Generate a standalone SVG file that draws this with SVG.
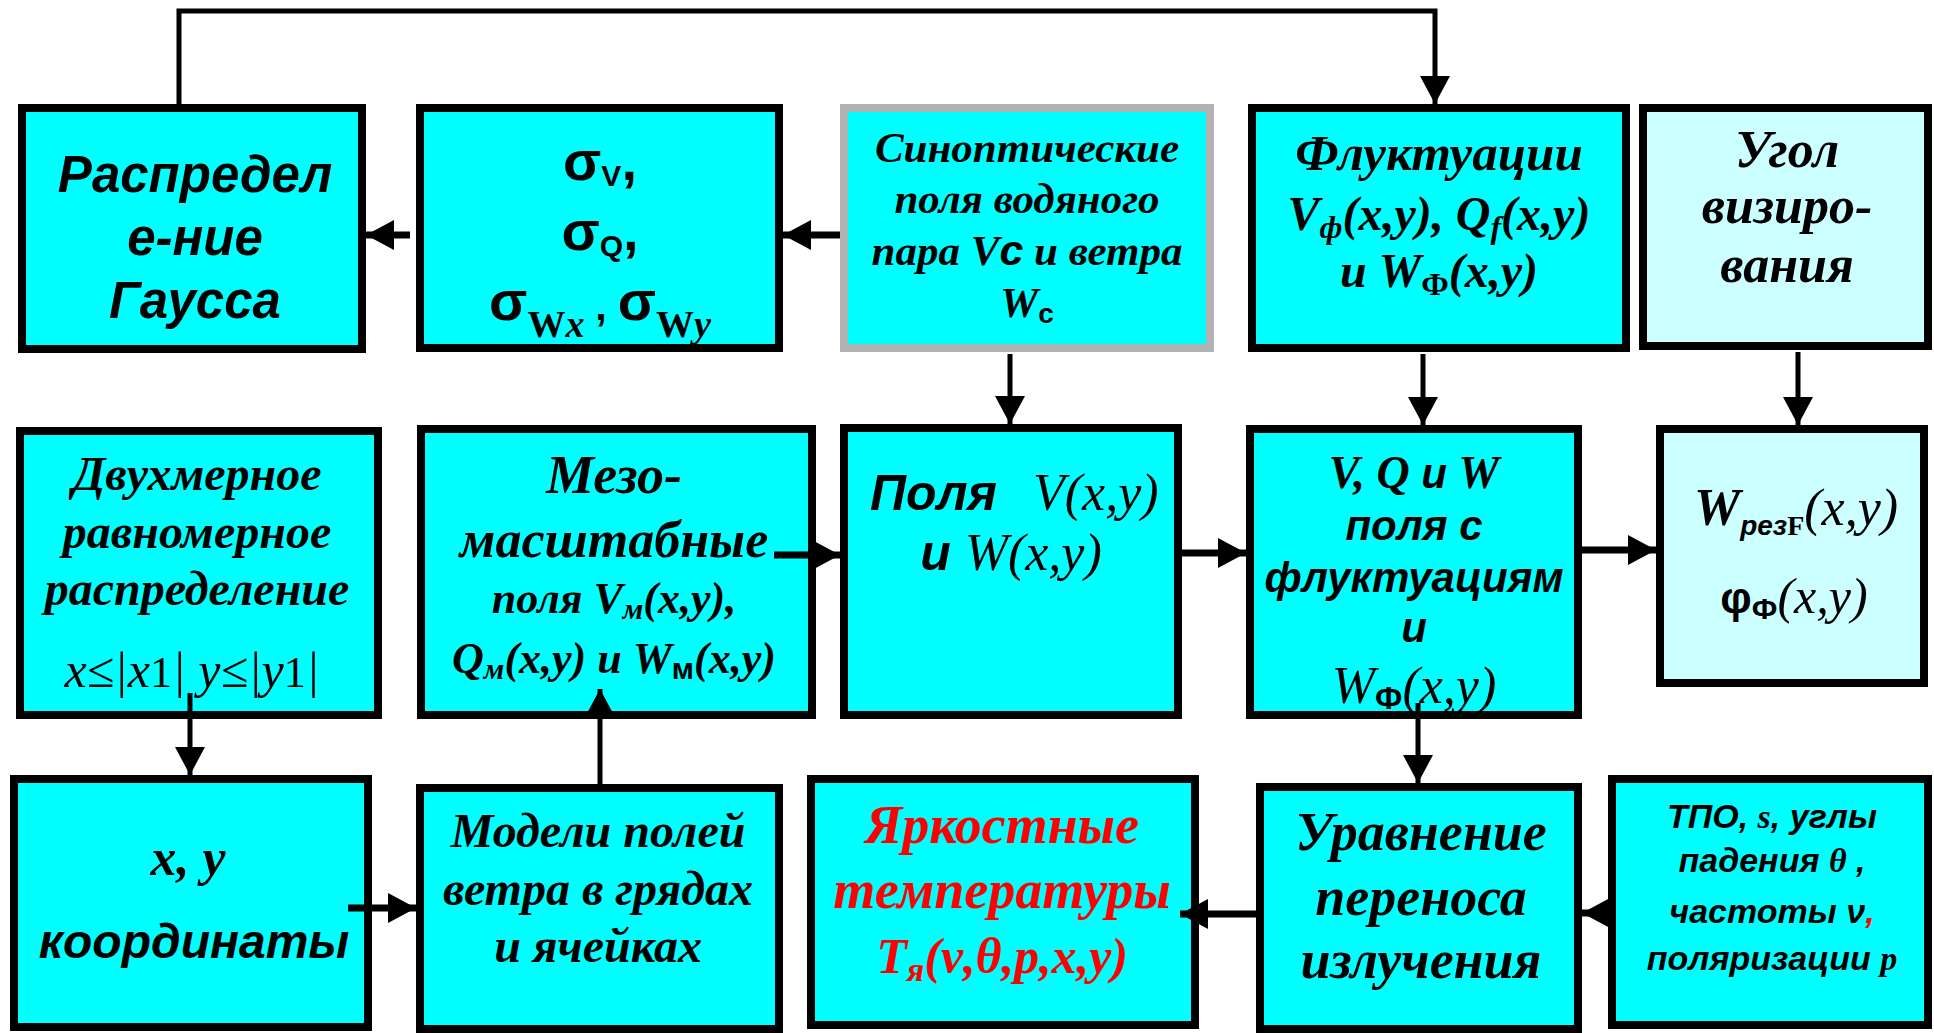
<svg xmlns="http://www.w3.org/2000/svg" width="1934" height="1033" viewBox="0 0 1934 1033">
<defs>
<style>
.box{fill:#00FFFF;stroke:#000;stroke-width:8}
.lbox{fill:#CCFFFF;stroke:#000;stroke-width:8}
.gbox{fill:#00FFFF;stroke:#B3B3B3;stroke-width:8}
.ab{font-family:"Liberation Sans",Arial,sans-serif;font-weight:bold;font-style:italic}
.tb{font-family:"Liberation Serif","Times New Roman",serif;font-weight:bold;font-style:italic}
.ti{font-family:"Liberation Serif","Times New Roman",serif;font-style:italic}
.su{font-family:"Liberation Sans",Arial,sans-serif;font-weight:bold}
.tu{font-family:"Liberation Serif","Times New Roman",serif;font-weight:bold}
text{text-anchor:middle;fill:#000}
.st{text-anchor:start}
.red{fill:#FF0000}
.cv{fill:none;stroke:#000;stroke-width:5}
.ch{fill:none;stroke:#000;stroke-width:7}
</style>
<marker id="ah" markerUnits="userSpaceOnUse" markerWidth="28" markerHeight="30" refX="28" refY="15" orient="auto">
<path d="M0,0 L28,15 L0,30 Z" fill="#000"/>
</marker>
</defs>

<g id="n1"><rect class="box" x="22" y="108" width="340" height="241"/>
<text class="ab" font-size="51"><tspan x="195" y="192">Распредел</tspan><tspan x="195" y="255">е-ние</tspan><tspan x="195" y="318">Гаусса</tspan></text></g>

<g id="n2"><rect class="box" x="420" y="108" width="359" height="240"/>
<text class="su" font-size="56" x="600" y="180">σ<tspan font-size="30" dy="6">V</tspan><tspan dy="-6">,</tspan></text>
<text class="su" font-size="56" x="600" y="250">σ<tspan font-size="30" dy="6">Q</tspan><tspan dy="-6">,</tspan></text>
<text class="su" font-size="56" x="600" y="320">σ<tspan class="tu" font-size="38" dy="17">W<tspan font-style="italic">x</tspan></tspan><tspan dy="-17" font-size="40"> , </tspan>σ<tspan class="tu" font-size="38" dy="17">W<tspan font-style="italic">y</tspan></tspan></text>
</g>

<g id="n3"><rect class="gbox" x="844" y="108" width="366" height="240"/>
<text class="tb" font-size="43"><tspan x="1027" y="162">Синоптические</tspan><tspan x="1027" y="213">поля водяного</tspan><tspan x="1027" y="265">пара V<tspan class="su" font-style="italic">с</tspan> и ветра</tspan><tspan x="1027" y="317">W<tspan class="su" font-size="28" font-style="normal" dy="6">с</tspan></tspan></text></g>

<g id="n4"><rect class="box" x="1252" y="108" width="374" height="240"/>
<text class="tb" font-size="51" x="1439" y="170">Флуктуации</text>
<text class="tb" font-size="48"><tspan x="1439" y="230">V<tspan font-size="32" dy="8">ф</tspan><tspan dy="-8">(x,y), Q</tspan><tspan font-size="32" dy="8">f</tspan><tspan dy="-8">(x,y)</tspan></tspan><tspan x="1439" y="287">и W<tspan class="tu" font-size="32" font-style="normal" dy="8">Ф</tspan><tspan dy="-8">(x,y)</tspan></tspan></text></g>

<g id="n5"><rect class="lbox" x="1643" y="108" width="285" height="238"/>
<text class="tb" font-size="52"><tspan x="1787" y="167">Угол</tspan><tspan x="1787" y="223">визиро-</tspan><tspan x="1787" y="282">вания</tspan></text></g>

<g id="n6"><rect class="box" x="20" y="431" width="358" height="284"/>
<text class="tb" font-size="48"><tspan x="197" y="490">Двухмерное</tspan><tspan x="197" y="548">равномерное</tspan><tspan x="197" y="605">распределение</tspan></text>
<text class="ti" font-size="50" x="192" y="687">x≤|x<tspan font-style="normal" font-size="44">1</tspan>|  y≤|y<tspan font-style="normal" font-size="44">1</tspan>|</text></g>

<g id="n7"><rect class="box" x="421" y="429" width="391" height="286"/>
<text class="tb" font-size="54" x="614" y="493">Мезо-</text>
<text class="tb" font-size="52" x="614" y="557">масштабные</text>
<text class="tb" font-size="44"><tspan x="614" y="613">поля V<tspan font-size="30" dy="6">м</tspan><tspan dy="-6">(x,y),</tspan></tspan><tspan x="614" y="673">Q<tspan font-size="30" dy="6">м</tspan><tspan dy="-6">(x,y) и W</tspan><tspan class="su" font-style="normal" font-size="30" dy="6">м</tspan><tspan dy="-6">(x,y)</tspan></tspan></text></g>

<g id="n8"><rect class="box" x="844" y="428" width="334" height="287"/>
<text class="ab st" font-size="50" x="870" y="510">Поля</text>
<text class="ti st" font-size="52" x="1033" y="510">V(x,y)</text>
<text x="1011" y="570" font-size="50"><tspan class="ab">и </tspan><tspan class="ti" font-size="52">W(x,y)</tspan></text></g>

<g id="n9"><rect class="box" x="1250" y="429" width="328" height="286"/>
<text class="tb" font-size="46" x="1414" y="488">V, Q <tspan class="ab" font-size="42">и</tspan> W</text>
<text class="ab" font-size="42"><tspan x="1414" y="540">поля с</tspan><tspan x="1414" y="592">флуктуациям</tspan><tspan x="1414" y="642">и</tspan></text>
<text class="ti" font-size="52" x="1414" y="703">W<tspan class="su" font-style="normal" font-size="32" dy="6">Ф</tspan><tspan dy="-6">(x,y)</tspan></text></g>

<g id="n10"><rect class="lbox" x="1660" y="429" width="264" height="254"/>
<text class="ti" font-size="52" x="1796" y="525"><tspan class="tb">W</tspan><tspan class="ab" font-size="28" dy="10">рез</tspan><tspan class="tu" font-style="normal" font-size="28">F</tspan><tspan dy="-10">(x,y)</tspan></text>
<text class="ti" font-size="50" x="1794" y="613"><tspan class="su" font-style="normal" font-size="44">φ</tspan><tspan class="su" font-style="normal" font-size="30" dy="6">Ф</tspan><tspan dy="-6">(x,y)</tspan></text></g>

<g id="n11"><rect class="box" x="14" y="779" width="354" height="248"/>
<text class="tb" font-size="52" x="188" y="875">x, y</text>
<text class="ab" font-size="48" x="194" y="958">координаты</text></g>

<g id="n12"><rect class="box" x="420" y="788" width="359" height="241"/>
<text class="tb" font-size="48"><tspan x="598" y="847">Модели полей</tspan><tspan x="598" y="905">ветра в грядах</tspan><tspan x="598" y="962">и ячейках</tspan></text></g>

<g id="n13"><rect class="box" x="811" y="779" width="384" height="246"/>
<text class="tb red" font-size="54"><tspan x="1002" y="843">Яркостные</tspan><tspan x="1002" y="908">температуры</tspan></text>
<text class="tb red" font-size="50" x="1002" y="973">Т<tspan font-size="34" dy="8">я</tspan><tspan dy="-8">(ν,θ,p,x,y)</tspan></text></g>

<g id="n14"><rect class="box" x="1260" y="787" width="318" height="242"/>
<text class="tb" font-size="54"><tspan x="1421" y="850">Уравнение</tspan><tspan x="1421" y="915">переноса</tspan><tspan x="1421" y="978">излучения</tspan></text></g>

<g id="n15"><rect class="box" x="1612" y="779" width="316" height="246"/>
<text class="ab" font-size="34"><tspan x="1772" y="828">ТПО, <tspan class="ti">s</tspan>, углы</tspan><tspan x="1772" y="872">падения <tspan class="ti">θ</tspan> ,</tspan><tspan x="1772" y="923">частоты ν<tspan class="red">,</tspan></tspan><tspan x="1772" y="970">поляризации <tspan class="ti">p</tspan></tspan></text></g>

<g id="connectors">
<polyline class="cv" points="179,104 179,11 1435,11 1435,104" marker-end="url(#ah)"/>
<line class="ch" x1="410" y1="235" x2="366" y2="235" marker-end="url(#ah)"/>
<line class="ch" x1="840" y1="235" x2="783" y2="235" marker-end="url(#ah)"/>
<line class="cv" x1="1010" y1="354" x2="1010" y2="424" marker-end="url(#ah)"/>
<line class="cv" x1="1423" y1="354" x2="1423" y2="425" marker-end="url(#ah)"/>
<line class="cv" x1="1798" y1="352" x2="1798" y2="425" marker-end="url(#ah)"/>
<line class="cv" x1="190" y1="693" x2="190" y2="775" marker-end="url(#ah)"/>
<line class="cv" x1="600" y1="784" x2="600" y2="689" marker-end="url(#ah)"/>
<line class="cv" x1="1418" y1="703" x2="1418" y2="783" marker-end="url(#ah)"/>
<line class="ch" x1="774" y1="555" x2="840" y2="555" marker-end="url(#ah)"/>
<line class="ch" x1="1182" y1="553" x2="1246" y2="553" marker-end="url(#ah)"/>
<line class="ch" x1="1582" y1="550" x2="1656" y2="550" marker-end="url(#ah)"/>
<line class="ch" x1="348" y1="908" x2="416" y2="908" marker-end="url(#ah)"/>
<line class="ch" x1="1256" y1="914" x2="1180" y2="914" marker-end="url(#ah)"/>
<line class="ch" x1="1608" y1="913" x2="1582" y2="913" marker-end="url(#ah)"/>
</g>
</svg>
